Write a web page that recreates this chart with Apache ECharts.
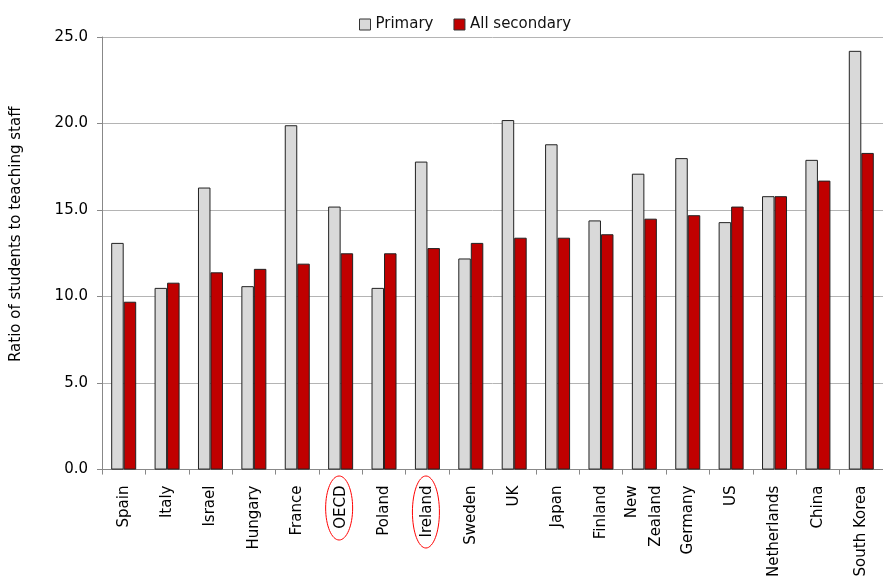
<!DOCTYPE html>
<html>
<head>
<meta charset="utf-8">
<script src="https://cdn.jsdelivr.net/npm/echarts@6/dist/echarts.min.js"></script>
<style>html,body{margin:0;padding:0;background:#fff}#c{width:883px;height:580px}</style>
</head>
<body>
<div id="c"></div>
<script>
var categories = ['Spain','Italy','Israel','Hungary','France','OECD','Poland','Ireland','Sweden','UK','Japan','Finland','New\nZealand','Germany','US','Netherlands','China','South Korea'];
var primary = [13.1,10.5,16.3,10.6,19.9,15.2,10.5,17.8,12.2,20.2,18.8,14.4,17.1,18.0,14.3,15.8,17.9,24.2];
var secondary = [9.7,10.8,11.4,11.6,11.9,12.5,12.5,12.8,13.1,13.4,13.4,13.6,14.5,14.7,15.2,15.8,16.7,18.3];
var yTicks = [0,5,10,15,20,25];
var highlighted = ['OECD','Ireland'];

var font = 'DejaVu Sans';
var chart = echarts.init(document.getElementById('c'), null, {renderer:'canvas'});
chart.setOption({
  animation:false,
  textStyle:{fontFamily:font},
  legend:{
    left:354, top:12, itemWidth:11, itemHeight:11, itemGap:20, icon:'rect',
    itemStyle:{borderColor:'#333', borderWidth:1},
    textStyle:{fontFamily:font, fontSize:15, color:'#111'},
    data:['Primary','All secondary']
  },
  grid:{left:102, right:-10, top:37, bottom:110, containLabel:false},
  xAxis:{
    type:'category', data:categories,
    axisLine:{lineStyle:{color:'#888', width:1}},
    axisTick:{show:true, length:5, lineStyle:{color:'#888'}},
    axisLabel:{rotate:90, fontSize:15, color:'#000', fontFamily:font, margin:16, interval:0, lineHeight:24}
  },
  yAxis:{
    type:'value', min:yTicks[0], max:yTicks[yTicks.length-1], interval:5,
    name:'Ratio of students to teaching staff', nameLocation:'middle', nameGap:78,
    nameTextStyle:{fontSize:15, color:'#000', fontFamily:font, padding:[0,0,0,38]},
    axisLine:{show:true, lineStyle:{color:'#888'}},
    axisTick:{show:true, length:5, lineStyle:{color:'#888'}},
    axisLabel:{fontSize:15, color:'#000', fontFamily:font, margin:14, formatter:function(v){return v.toFixed(1);}},
    splitLine:{show:true, lineStyle:{color:'#b4b4b4', width:1}}
  },
  series:[
    {name:'Primary', type:'bar', data:primary, barWidth:12.5, barGap:'0%',
     itemStyle:{color:'#d9d9d9', borderColor:'#222', borderWidth:1}},
    {name:'All secondary', type:'bar', data:secondary, barWidth:12.5, barGap:'0%',
     itemStyle:{color:'#c00000', borderColor:'#222', borderWidth:1}}
  ]
});
var ell = highlighted.map(function(name){
  var p = chart.convertToPixel({xAxisIndex:0, yAxisIndex:0}, [name, 0]);
  var ry = name === 'Ireland' ? 36 : 32;
  var cy = name === 'Ireland' ? 512 : 508;
  return {type:'ellipse', shape:{cx:p[0]-1.5, cy:cy, rx:13.5, ry:ry}, style:{fill:'none', stroke:'#ff0000', lineWidth:1}, z:100};
});
chart.setOption({graphic:ell});
</script>
</body>
</html>
